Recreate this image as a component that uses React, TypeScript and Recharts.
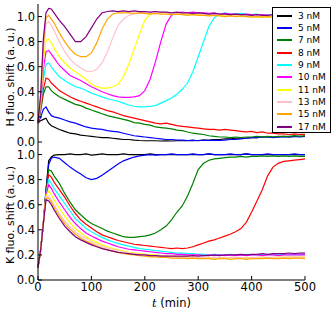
import { LineChart, Line, XAxis, YAxis } from "recharts";

// time in minutes
const TIME = [
  0, 5, 10, 15, 20, 25, 30, 40, 50, 60,
  70, 80, 90, 100, 110, 120, 130, 140, 150, 160,
  170, 180, 190, 200, 210, 220, 230, 240, 250, 260,
  270, 280, 290, 300, 310, 320, 330, 340, 350, 360,
  370, 380, 390, 400, 410, 420, 430, 440, 450, 460,
  470, 480, 490, 500,
];

const CONC = ["3 nM", "5 nM", "7 nM", "8 nM", "9 nM", "10 nM", "11 nM", "13 nM", "15 nM", "17 nM"];
const COLORS = ["#000000", "#0000ff", "#008000", "#ff0000", "#00ffff", "#ff00ff", "#ffff00", "#ffc0cb", "#ffa500", "#800080"];

const X_TICKS = [0, 100, 200, 300, 400, 500];
const Y_TICKS = [0, 0.2, 0.4, 0.6, 0.8, 1.0];

// H fluo. shift
const H_3 = [
  0.15, 0.17, 0.18, 0.19, 0.15, 0.13, 0.12, 0.10, 0.085, 0.07,
  0.065, 0.055, 0.05, 0.045, 0.04, 0.035, 0.035, 0.03, 0.025, 0.02,
  0.02, 0.015, 0.012, 0.01, 0.01, 0.01, 0.008, 0.01, 0.008, 0.01,
  0.01, 0.012, 0.01, 0.012, 0.015, 0.015, 0.02, 0.02, 0.025, 0.025,
  0.03, 0.03, 0.03, 0.035, 0.035, 0.04, 0.04, 0.04, 0.04, 0.045,
  0.04, 0.045, 0.045, 0.045,
];
const H_5 = [
  0.15, 0.2, 0.26, 0.28, 0.24, 0.21, 0.2, 0.19, 0.175, 0.16,
  0.15, 0.135, 0.12, 0.11, 0.105, 0.1, 0.09, 0.085, 0.08, 0.07,
  0.06, 0.05, 0.045, 0.04, 0.035, 0.03, 0.025, 0.02, 0.02, 0.015,
  0.015, 0.012, 0.015, 0.01, 0.015, 0.012, 0.015, 0.012, 0.015, 0.02,
  0.02, 0.025, 0.03, 0.035, 0.035, 0.04, 0.04, 0.035, 0.04, 0.04,
  0.04, 0.045, 0.04, 0.045,
];
const H_7 = [
  0.15, 0.25, 0.38, 0.44, 0.44, 0.41, 0.39, 0.36, 0.34, 0.32,
  0.30, 0.29, 0.27, 0.255, 0.24, 0.225, 0.21, 0.2, 0.19, 0.18,
  0.17, 0.155, 0.15, 0.14, 0.135, 0.12, 0.115, 0.11, 0.105, 0.095,
  0.09, 0.08, 0.07, 0.065, 0.06, 0.05, 0.045, 0.04, 0.04, 0.035,
  0.04, 0.035, 0.04, 0.04, 0.045, 0.04, 0.045, 0.04, 0.045, 0.045,
  0.045, 0.05, 0.045, 0.05,
];
const H_8 = [
  0.15, 0.26, 0.42, 0.51, 0.5, 0.47, 0.45, 0.41, 0.385, 0.36,
  0.34, 0.325, 0.31, 0.295, 0.28, 0.265, 0.25, 0.24, 0.225, 0.21,
  0.2, 0.19, 0.18, 0.17, 0.16, 0.15, 0.145, 0.15, 0.14, 0.13,
  0.125, 0.12, 0.115, 0.11, 0.105, 0.1, 0.1, 0.095, 0.1, 0.095,
  0.09, 0.085, 0.08, 0.085, 0.075, 0.08, 0.07, 0.07, 0.065, 0.065,
  0.06, 0.065, 0.06, 0.06,
];
const H_9 = [
  0.15, 0.28, 0.5, 0.62, 0.63, 0.6, 0.57, 0.52, 0.49, 0.465,
  0.44, 0.43, 0.41, 0.39, 0.375, 0.36, 0.345, 0.335, 0.325, 0.31,
  0.295, 0.285, 0.28, 0.28, 0.285, 0.29, 0.31, 0.33, 0.35, 0.38,
  0.42, 0.47, 0.56, 0.68, 0.8, 0.92, 0.99, 1.02, 1.03, 1.02,
  1.02, 1.025, 1.02, 1.015, 1.02, 1.01, 1.015, 1.01, 1.01, 1.005,
  1.01, 1.0, 1.005, 1.0,
];
const H_10 = [
  0.15, 0.3, 0.58, 0.72, 0.73, 0.7, 0.67, 0.61, 0.57, 0.53,
  0.51, 0.49, 0.465, 0.44, 0.42, 0.4, 0.385, 0.37, 0.36, 0.355,
  0.355, 0.36, 0.37, 0.41, 0.5, 0.64, 0.8, 0.94, 1.01, 1.03,
  1.035, 1.03, 1.035, 1.03, 1.03, 1.025, 1.03, 1.02, 1.025, 1.02,
  1.02, 1.015, 1.02, 1.015, 1.01, 1.015, 1.01, 1.01, 1.01, 1.005,
  1.01, 1.005, 1.0, 1.005,
];
const H_11 = [
  0.15, 0.32, 0.65, 0.81, 0.82, 0.79, 0.75, 0.68, 0.63, 0.59,
  0.56, 0.53, 0.5, 0.46, 0.44, 0.43, 0.43, 0.44, 0.46, 0.52,
  0.62, 0.74, 0.86, 0.97, 1.02, 1.03, 1.03, 1.035, 1.03, 1.03,
  1.02, 1.02, 1.015, 1.02, 1.01, 1.015, 1.01, 1.01, 1.005, 1.01,
  1.005, 1.0, 1.005, 1.0, 1.0, 0.995, 1.0, 0.995, 1.0, 0.995,
  1.0, 0.995, 0.995, 1.0,
];
const H_13 = [
  0.15, 0.34, 0.72, 0.94, 0.96, 0.93, 0.89, 0.8, 0.72, 0.66,
  0.62, 0.59, 0.565, 0.56, 0.58, 0.63, 0.72, 0.83, 0.93, 0.98,
  1.01, 1.02, 1.03, 1.03, 1.035, 1.03, 1.035, 1.03, 1.03, 1.025,
  1.03, 1.025, 1.02, 1.025, 1.02, 1.02, 1.015, 1.02, 1.015, 1.01,
  1.015, 1.01, 1.01, 1.005, 1.01, 1.005, 1.01, 1.005, 1.0, 1.005,
  1.0, 1.005, 1.0, 1.0,
];
const H_15 = [
  0.15, 0.36, 0.78, 0.99, 1.01, 0.98, 0.95, 0.87, 0.8, 0.74,
  0.7, 0.68, 0.68, 0.71, 0.79, 0.9, 0.98, 1.02, 1.03, 1.03,
  1.03, 1.025, 1.03, 1.025, 1.02, 1.025, 1.02, 1.02, 1.015, 1.02,
  1.015, 1.01, 1.015, 1.01, 1.01, 1.005, 1.01, 1.005, 1.0, 1.005,
  1.0, 1.005, 1.0, 0.995, 1.0, 0.995, 1.0, 0.995, 0.99, 0.995,
  0.995, 0.99, 0.995, 0.99,
];
const H_17 = [
  0.15, 0.38, 0.82, 1.03, 1.065, 1.06, 1.03, 0.97, 0.92, 0.86,
  0.8, 0.8, 0.84, 0.91, 0.98, 1.03, 1.04, 1.045, 1.04, 1.045,
  1.04, 1.045, 1.04, 1.04, 1.035, 1.04, 1.035, 1.035, 1.03, 1.035,
  1.03, 1.03, 1.025, 1.03, 1.025, 1.02, 1.025, 1.02, 1.02, 1.015,
  1.02, 1.015, 1.015, 1.01, 1.015, 1.01, 1.01, 1.015, 1.01, 1.01,
  1.005, 1.01, 1.005, 1.01,
];

// K fluo. shift
const K_3 = [
  0.1, 0.24, 0.45, 0.72, 0.95, 0.98, 0.995, 1.0, 1.0, 1.005,
  1.0, 1.0, 1.005, 0.995, 1.0, 1.005, 1.0, 1.0, 1.0, 1.005,
  1.0, 1.0, 1.0, 1.0, 1.005, 1.0, 1.0, 1.0, 1.0, 1.0,
  1.0, 1.0, 1.0, 1.0, 1.0, 1.005, 1.0, 1.0, 1.0, 1.0,
  1.0, 1.0, 1.005, 1.0, 1.0, 1.0, 1.0, 1.0, 1.0, 1.0,
  1.0, 1.0, 1.0, 1.0,
];
const K_5 = [
  0.1, 0.24, 0.45, 0.71, 0.92, 0.97, 0.98, 0.97, 0.935, 0.9,
  0.87, 0.845, 0.815, 0.8, 0.81, 0.835, 0.865, 0.895, 0.925, 0.95,
  0.965, 0.98, 0.99, 0.995, 1.0, 0.995, 1.0, 1.0, 1.005, 1.0,
  1.0, 1.0, 1.005, 1.0, 1.0, 1.005, 1.0, 1.0, 1.0, 1.005,
  1.0, 1.0, 1.005, 1.0, 1.0, 1.0, 1.005, 1.0, 1.0, 1.0,
  1.0, 1.005, 1.0, 1.0,
];
const K_7 = [
  0.1, 0.24, 0.45, 0.7, 0.88, 0.87, 0.83, 0.77, 0.69, 0.62,
  0.56, 0.52, 0.48, 0.45, 0.43, 0.41, 0.39, 0.375, 0.36, 0.345,
  0.34, 0.34, 0.345, 0.35, 0.36, 0.375, 0.4, 0.43, 0.48, 0.54,
  0.59, 0.67, 0.77, 0.88, 0.93, 0.955, 0.965, 0.97, 0.975, 0.98,
  0.98, 0.985, 0.98, 0.985, 0.985, 0.99, 0.985, 0.99, 0.985, 0.99,
  0.985, 0.99, 0.985, 0.985,
];
const K_8 = [
  0.1, 0.24, 0.45, 0.69, 0.84, 0.82, 0.78, 0.72, 0.66, 0.59,
  0.53, 0.48, 0.445, 0.415, 0.385, 0.36, 0.345, 0.33, 0.315, 0.305,
  0.295, 0.285, 0.28, 0.275, 0.27, 0.265, 0.26, 0.255, 0.25, 0.255,
  0.25, 0.255, 0.265, 0.28, 0.295, 0.31, 0.32, 0.335, 0.35, 0.365,
  0.385, 0.41, 0.46, 0.54, 0.63, 0.72, 0.83, 0.9, 0.93, 0.945,
  0.95, 0.955, 0.96, 0.965,
];
const K_9 = [
  0.1, 0.24, 0.45, 0.68, 0.8, 0.77, 0.73, 0.67, 0.61, 0.55,
  0.49, 0.45, 0.41, 0.385, 0.36, 0.34, 0.32, 0.305, 0.29, 0.28,
  0.27, 0.26, 0.25, 0.245, 0.24, 0.235, 0.23, 0.225, 0.22, 0.215,
  0.215, 0.21, 0.21, 0.205, 0.205, 0.2, 0.205, 0.2, 0.2, 0.205,
  0.2, 0.2, 0.205, 0.2, 0.2, 0.205, 0.2, 0.205, 0.2, 0.205,
  0.2, 0.205, 0.2, 0.205,
];
const K_10 = [
  0.1, 0.24, 0.45, 0.67, 0.76, 0.73, 0.69, 0.62, 0.56, 0.5,
  0.45, 0.41, 0.375, 0.35, 0.33, 0.31, 0.295, 0.28, 0.265, 0.255,
  0.245, 0.24, 0.235, 0.23, 0.225, 0.22, 0.215, 0.21, 0.21, 0.205,
  0.205, 0.2, 0.2, 0.2, 0.195, 0.2, 0.195, 0.2, 0.195, 0.2,
  0.195, 0.2, 0.195, 0.2, 0.2, 0.195, 0.2, 0.2, 0.195, 0.2,
  0.2, 0.2, 0.2, 0.2,
];
const K_11 = [
  0.1, 0.24, 0.45, 0.67, 0.71, 0.68, 0.64, 0.57, 0.51, 0.455,
  0.41, 0.375, 0.345, 0.32, 0.3, 0.28, 0.265, 0.25, 0.24, 0.23,
  0.22, 0.215, 0.21, 0.205, 0.2, 0.2, 0.195, 0.19, 0.19, 0.185,
  0.185, 0.18, 0.18, 0.18, 0.175, 0.18, 0.175, 0.18, 0.175, 0.18,
  0.175, 0.175, 0.18, 0.175, 0.18, 0.18, 0.175, 0.18, 0.18, 0.18,
  0.185, 0.18, 0.185, 0.18,
];
const K_13 = [
  0.1, 0.24, 0.45, 0.66, 0.67, 0.64, 0.6, 0.53, 0.47, 0.425,
  0.385, 0.355, 0.33, 0.305, 0.285, 0.27, 0.255, 0.245, 0.235, 0.225,
  0.215, 0.21, 0.205, 0.2, 0.195, 0.195, 0.19, 0.19, 0.185, 0.185,
  0.18, 0.185, 0.18, 0.18, 0.18, 0.175, 0.18, 0.18, 0.175, 0.18,
  0.18, 0.18, 0.175, 0.18, 0.18, 0.185, 0.18, 0.18, 0.185, 0.18,
  0.185, 0.185, 0.18, 0.185,
];
const K_15 = [
  0.1, 0.24, 0.45, 0.65, 0.65, 0.62, 0.58, 0.51, 0.45, 0.405,
  0.365, 0.335, 0.31, 0.29, 0.27, 0.255, 0.24, 0.23, 0.22, 0.21,
  0.205, 0.2, 0.195, 0.19, 0.185, 0.185, 0.18, 0.18, 0.175, 0.175,
  0.175, 0.17, 0.175, 0.17, 0.17, 0.17, 0.165, 0.17, 0.17, 0.165,
  0.17, 0.17, 0.165, 0.17, 0.17, 0.17, 0.175, 0.17, 0.17, 0.175,
  0.17, 0.175, 0.175, 0.17,
];
const K_17 = [
  0.1, 0.24, 0.45, 0.64, 0.63, 0.6, 0.56, 0.49, 0.43, 0.385,
  0.345, 0.32, 0.3, 0.28, 0.265, 0.25, 0.24, 0.23, 0.22, 0.215,
  0.21, 0.205, 0.2, 0.2, 0.195, 0.195, 0.19, 0.19, 0.19, 0.19,
  0.19, 0.19, 0.195, 0.19, 0.195, 0.195, 0.2, 0.195, 0.2, 0.2,
  0.2, 0.205, 0.2, 0.205, 0.205, 0.21, 0.205, 0.21, 0.21, 0.21,
  0.215, 0.21, 0.215, 0.215,
];

const H_SERIES = [H_3, H_5, H_7, H_8, H_9, H_10, H_11, H_13, H_15, H_17];
const K_SERIES = [K_3, K_5, K_7, K_8, K_9, K_10, K_11, K_13, K_15, K_17];

function toRows(series: number[][]) {
  return TIME.map((t, i) => {
    const row: Record<string, number> = { t };
    series.forEach((s, j) => {
      row[`c${j}`] = s[i];
    });
    return row;
  });
}

const FONT = "DejaVu Sans";
const TICK = { fontSize: 11.5, fill: "#000", fontFamily: FONT };
const BLACK = { stroke: "#000", strokeWidth: 1 };

function yTitle(text: string) {
  return (props: any) => {
    const vb = props.viewBox || { x: 0, y: 0, width: 38, height: 138 };
    const cy = vb.y + vb.height / 2 + 4;
    return (
      <text
        x={0}
        y={0}
        transform={`translate(10, ${cy}) rotate(-90)`}
        textAnchor="middle"
        dominantBaseline="central"
        fontSize={11}
        fontFamily={FONT}
        fill="#000"
      >
        {text}
      </text>
    );
  };
}

function xTitle(props: any) {
  const vb = props.viewBox || { x: 38, y: 142, width: 267, height: 33 };
  return (
    <text
      x={vb.x + vb.width / 2}
      y={vb.y + 23}
      textAnchor="middle"
      dominantBaseline="central"
      fontSize={11.5}
      fontFamily={FONT}
      fill="#000"
    >
      <tspan fontStyle="italic" fontFamily="DejaVu Serif">t</tspan>
      <tspan> (min)</tspan>
    </text>
  );
}

function Panel({
  rows,
  title,
  bottom,
}: {
  rows: Record<string, number>[];
  title: string;
  bottom: boolean;
}) {
  const height = bottom ? 175 : 150;
  return (
    <LineChart
      width={332}
      height={height}
      data={rows}
      margin={{ top: 4, right: 27, bottom: bottom ? 0 : 8, left: 0 }}
    >
      <XAxis
        dataKey="t"
        type="number"
        domain={[0, 500]}
        ticks={X_TICKS}
        tick={bottom ? TICK : false}
        tickSize={-4}
        tickMargin={7}
        axisLine={BLACK}
        tickLine={BLACK}
        height={bottom ? 33 : 0}
        label={bottom ? xTitle : undefined}
      />
      <XAxis
        xAxisId="top"
        orientation="top"
        dataKey="t"
        type="number"
        domain={[0, 500]}
        ticks={X_TICKS}
        tick={false}
        tickSize={-4}
        axisLine={BLACK}
        tickLine={BLACK}
        height={0}
      />
      <YAxis
        type="number"
        domain={[0, 1.1]}
        ticks={Y_TICKS}
        tickFormatter={(v: number) => v.toFixed(1)}
        tick={TICK}
        tickSize={-4}
        tickMargin={7}
        axisLine={BLACK}
        tickLine={BLACK}
        width={38}
        label={yTitle(title)}
      />
      <YAxis
        yAxisId="right"
        orientation="right"
        type="number"
        domain={[0, 1.1]}
        ticks={Y_TICKS}
        tick={false}
        tickSize={-4}
        axisLine={BLACK}
        tickLine={BLACK}
        width={0}
      />
      {CONC.map((c, j) => (
        <Line
          key={c}
          type="linear"
          dataKey={`c${j}`}
          name={c}
          stroke={COLORS[j]}
          strokeWidth={1.2}
          dot={false}
          isAnimationActive={false}
        />
      ))}
    </LineChart>
  );
}

function LegendBox() {
  return (
    <div
      style={{
        position: "absolute",
        left: 272,
        top: 7,
        width: 59,
        height: 126,
        boxSizing: "border-box",
        border: "1px solid #000",
        background: "#fff",
        fontFamily: FONT,
        fontSize: 9,
      }}
    >
      {CONC.map((c, j) => (
        <div
          key={c}
          style={{
            position: "absolute",
            left: 0,
            top: 1.7 + j * 12.33,
            height: 12,
            width: "100%",
            display: "flex",
            alignItems: "center",
          }}
        >
          <span
            style={{
              display: "inline-block",
              marginLeft: 4,
              width: 15,
              height: 2,
              background: COLORS[j],
            }}
          />
          <span style={{ marginLeft: 6, lineHeight: "12px", color: "#000" }}>{c}</span>
        </div>
      ))}
    </div>
  );
}

export default function App() {
  const hRows = toRows(H_SERIES);
  const kRows = toRows(K_SERIES);
  return (
    <div
      style={{
        position: "absolute",
        left: 0,
        top: 0,
        width: 332,
        height: 313,
        background: "#fff",
        overflow: "hidden",
      }}
    >
      <div style={{ position: "absolute", left: 0, top: 138 }}>
        <Panel rows={kRows} title="K fluo. shift (a. u.)" bottom />
      </div>
      <div style={{ position: "absolute", left: 0, top: 0 }}>
        <Panel rows={hRows} title="H fluo. shift (a. u.)" bottom={false} />
      </div>
      <LegendBox />
    </div>
  );
}
